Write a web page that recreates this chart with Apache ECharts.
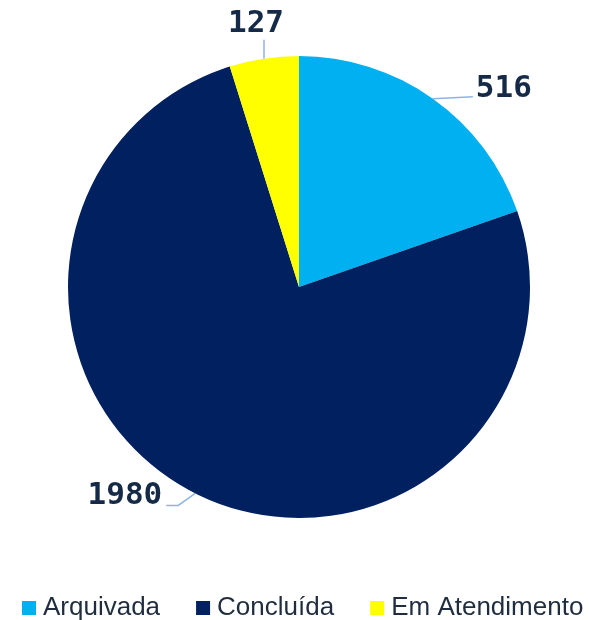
<!DOCTYPE html>
<html>
<head>
<meta charset="utf-8">
<script src="https://cdn.jsdelivr.net/npm/echarts@6/dist/echarts.min.js"></script>
<style>
html,body{margin:0;padding:0;background:#fff;}
#chart{width:590px;height:620px;}
</style>
</head>
<body>
<div id="chart"></div>
<script>
var categories = ['Arquivada', 'Concluída', 'Em Atendimento'];
var values = [516, 1980, 127];
var colors = ['#00B0F0', '#002060', '#FFFF00'];

// label placement relative to the library-computed arc point (style only)
var labelStyle = [
  { line: [[40, -2]], text: [43, -10], align: 'left' },
  { line: [[-17, 12], [-29, 12]], text: [-33, 3], align: 'right' },
  { line: [[0, -19]], text: [-8, -35], align: 'center' }
];

var chart = echarts.init(document.getElementById('chart'), null, { renderer: 'canvas' });

var seriesData = categories.map(function (c, i) {
  return { name: c, value: values[i], itemStyle: { color: colors[i] } };
});

chart.setOption({
  animation: false,
  backgroundColor: '#ffffff',
  legend: {
    data: categories,
    bottom: -1,
    left: 22,
    padding: 0,
    icon: 'rect',
    itemWidth: 14,
    itemHeight: 14,
    itemGap: 36,
    textStyle: {
      fontFamily: 'Liberation Sans, Arial, sans-serif',
      fontSize: 26,
      color: '#1f2d3f',
      padding: [0, 0, 0, 2]
    }
  },
  series: [{
    type: 'pie',
    center: [299, 287],
    radius: 231,
    startAngle: 90,
    clockwise: true,
    avoidLabelOverlap: false,
    itemStyle: { borderWidth: 0 },
    label: {
      show: true,
      position: 'outside',
      formatter: '{c}',
      fontFamily: 'DejaVu Sans Mono, monospace',
      fontWeight: 'bold',
      fontSize: 31,
      color: '#152a47'
    },
    labelLine: {
      show: true,
      length: 15,
      length2: 10,
      smooth: false,
      lineStyle: { color: '#8FB4E3', width: 1.5 }
    },
    labelLayout: function (p) {
      var s = labelStyle[p.dataIndex];
      var pts = p.labelLinePoints;
      if (!pts || !pts.length) { return {}; }
      var p0 = pts[0];
      var linePts = [[p0[0], p0[1]]];
      s.line.forEach(function (d) { linePts.push([p0[0] + d[0], p0[1] + d[1]]); });
      return {
        x: p0[0] + s.text[0],
        y: p0[1] + s.text[1],
        align: s.align,
        verticalAlign: 'middle',
        labelLinePoints: linePts
      };
    },
    data: seriesData
  }]
});
</script>
</body>
</html>
